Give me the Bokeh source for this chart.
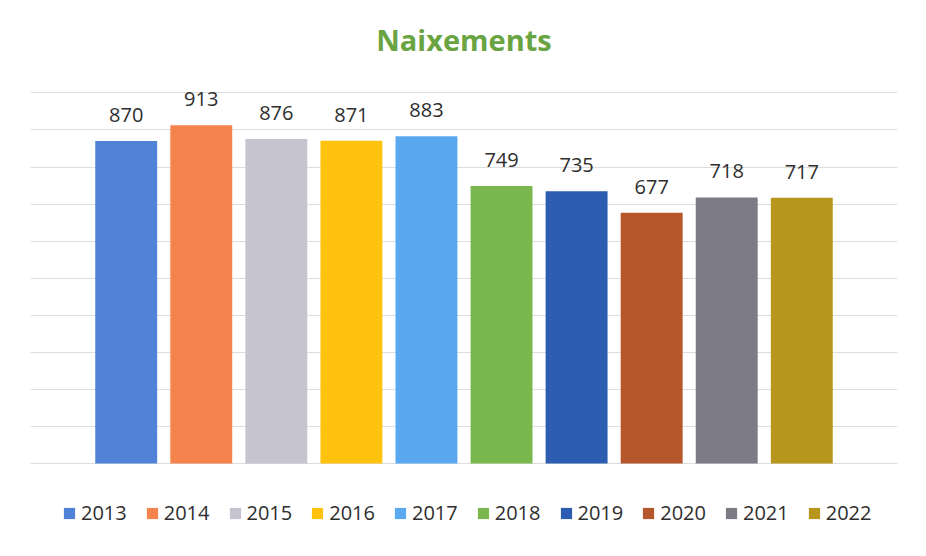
from bokeh.plotting import figure
from bokeh.models import ColumnDataSource, FactorRange, Range1d, FixedTicker, Legend, LegendItem, Title
from bokeh.core.properties import value
from bokeh.embed import file_html
from bokeh.resources import INLINE

years = ["2013", "2014", "2015", "2016", "2017", "2018", "2019", "2020", "2021", "2022"]
births = [870, 913, 876, 871, 883, 749, 735, 677, 718, 717]
colors = ["#5083D8", "#F5834E", "#C6C4D0", "#FFC20E", "#5AA9F0",
          "#7AB74E", "#2C5DB0", "#B5572B", "#7C7B86", "#B8961C"]
grid_ticks = [0, 100, 200, 300, 400, 500, 600, 700, 800, 900, 1000]
title_text = "Naixements"

src = ColumnDataSource(dict(year=years, births=births, color=colors,
                            label=[str(b) for b in births]))

p = figure(x_range=FactorRange(factors=years, range_padding=0.775, range_padding_units="absolute"),
           y_range=Range1d(-229, 1033.5),
           x_axis_location=None, y_axis_location=None,
           frame_width=867, frame_height=468, output_backend="svg", toolbar_location=None,
           min_border_left=30, min_border_right=21, min_border_bottom=0, min_border_top=80)

spacer = Title(text=" ", text_font_size="1px", standoff=2)
p.add_layout(spacer, "above")
main_title = Title(text=title_text, align="center", text_font="Open Sans",
                   text_font_size="29px", text_font_style="bold",
                   text_color="#6AA442", standoff=34)
p.add_layout(main_title, "above")

r = p.vbar(x="year", top="births", width=0.825, source=src, fill_color="color", line_color=None)

p.text(x="year", y="births", text="label", source=src, text_align="center",
       text_baseline="alphabetic", y_offset=-26, text_font=value("Open Sans"),
       text_font_size="20px", text_color="#2E2E2E")

p.xgrid.grid_line_color = None
p.ygrid.ticker = FixedTicker(ticks=grid_ticks)
p.ygrid.grid_line_color = "#DDDDDD"
p.ygrid.grid_line_width = 1
p.outline_line_color = None

items = [LegendItem(label=y, renderers=[r], index=i) for i, y in enumerate(years)]
legend = Legend(items=items, orientation="horizontal", location=(32, 22),
                glyph_width=14, glyph_height=14, label_standoff=5, spacing=18,
                label_text_font="Open Sans", label_text_font_size="20px",
                label_text_color="#2E2E2E", border_line_color=None,
                background_fill_alpha=0, margin=0, padding=5)
p.add_layout(legend, "center")

open("out.html", "w").write(file_html(p, INLINE))
